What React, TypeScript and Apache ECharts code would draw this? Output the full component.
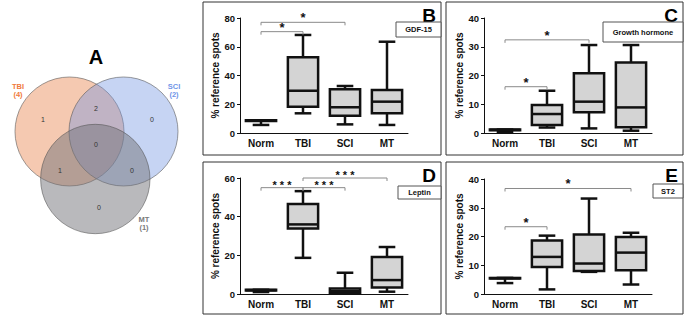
import React, { useEffect, useRef } from "react";
import * as echarts from "echarts";

const categories = ["Norm", "TBI", "SCI", "MT"];

// [min, Q1, median, Q3, max]
const gdf15 = [
  [5.6, 8.4, 8.6, 8.8, 8.8],
  [13.7, 18.3, 29.4, 52.7, 68.2],
  [6.0, 12.0, 17.9, 30.4, 32.7],
  [5.6, 13.7, 21.8, 29.9, 63.5],
];
const growthHormone = [
  [0.3, 1.0, 1.1, 1.2, 1.2],
  [1.9, 2.8, 6.6, 9.7, 14.7],
  [1.6, 7.2, 10.9, 20.8, 30.6],
  [0.8, 2.0, 8.9, 24.5, 30.6],
];
const leptin = [
  [1.0, 1.8, 2.0, 2.2, 2.2],
  [18.7, 33.9, 36.0, 46.6, 53.2],
  [0.2, 0.5, 1.5, 2.9, 11.0],
  [1.2, 3.3, 7.2, 19.2, 24.3],
];
const st2 = [
  [3.8, 5.4, 5.5, 5.6, 5.6],
  [1.6, 9.4, 12.9, 18.6, 20.3],
  [7.7, 8.0, 10.6, 20.7, 33.2],
  [3.3, 8.3, 14.4, 19.8, 21.3],
];

// significance brackets: [fromIndex, toIndex, level]
const gdf15Sig = [[0, 1, 70.5], [0, 2, 77]];
const gdf15SigLabels = ["*", "*"];
const ghSig = [[0, 1, 16.1], [0, 2, 32.4]];
const ghSigLabels = ["*", "*"];
const leptinSig = [[0, 1, 55], [1, 2, 55], [1, 3, 60]];
const leptinSigLabels = ["* * *", "* * *", "* * *"];
const st2Sig = [[0, 1, 23.4], [0, 3, 36.7]];
const st2SigLabels = ["*", "*"];

const yMaxes = [80, 40, 60, 40];
const yIntervals = [20, 10, 20, 10];
const panelLetters = ["B", "C", "D", "E"];
const markerNames = ["GDF-15", "Growth hormone", "Leptin", "ST2"];

// Venn
const vennSets = ["TBI", "SCI", "MT"];
const vennSetCounts = [4, 2, 1];
const vennRegionCounts = [1, 0, 0, 2, 1, 0, 0]; // TBI, SCI, MT, TBI∩SCI, TBI∩MT, SCI∩MT, all

const FONT = "Liberation Sans, Arial, sans-serif";

function boxRender(params: any, api: any) {
  const idx = api.value(0);
  const x = api.coord([idx, 0])[0];
  const yMin = api.coord([idx, api.value(1)])[1];
  const yQ1 = api.coord([idx, api.value(2)])[1];
  const yMed = api.coord([idx, api.value(3)])[1];
  const yQ3 = api.coord([idx, api.value(4)])[1];
  const yMax = api.coord([idx, api.value(5)])[1];
  const band = api.size([1, 0])[0];
  const bw = band * 0.72;
  const cw = bw * 0.55;
  const lw = 2.5;
  const s = { stroke: "#111", lineWidth: lw, fill: null };
  return {
    type: "group",
    children: [
      { type: "line", shape: { x1: x, y1: yMax, x2: x, y2: yQ3 }, style: s },
      { type: "line", shape: { x1: x, y1: yQ1, x2: x, y2: yMin }, style: s },
      { type: "line", shape: { x1: x - cw / 2, y1: yMax, x2: x + cw / 2, y2: yMax }, style: s },
      { type: "line", shape: { x1: x - cw / 2, y1: yMin, x2: x + cw / 2, y2: yMin }, style: s },
      {
        type: "rect",
        shape: { x: x - bw / 2, y: yQ3, width: bw, height: Math.max(yQ1 - yQ3, 0.5) },
        style: { fill: "#d4d4d4", stroke: "#111", lineWidth: lw },
      },
      { type: "line", shape: { x1: x - bw / 2, y1: yMed, x2: x + bw / 2, y2: yMed }, style: s },
    ],
  };
}

function makeSigRender(labels: string[]) {
  return (params: any, api: any) => {
    const i0 = api.value(0);
    const i1 = api.value(1);
    const lvl = api.value(2);
    const p0 = api.coord([i0, lvl]);
    const p1 = api.coord([i1, lvl]);
    const lab = labels[params.dataIndex];
    const triple = lab.length > 1;
    return {
      type: "group",
      children: [
        {
          type: "polyline",
          shape: { points: [[p0[0], p0[1] + 3], [p0[0], p0[1]], [p1[0], p1[1]], [p1[0], p1[1] + 3]] },
          style: { stroke: "#8a8a8a", lineWidth: 1, fill: null },
        },
        {
          type: "text",
          style: {
            text: lab,
            x: (p0[0] + p1[0]) / 2,
            y: p0[1] - (triple ? 3 : 4.5),
            align: "center",
            verticalAlign: "middle",
            font: `bold ${triple ? 11 : 13}px ${FONT}`,
            fill: "#111",
          },
        },
      ],
    };
  };
}

export default function App() {
  const ref = useRef<HTMLDivElement>(null);
  useEffect(() => {
    if (!ref.current) return;
    const chart = echarts.init(ref.current, null, { renderer: "svg" });

    const grids = [
      { left: 240, top: 18, width: 168, height: 115 },
      { left: 484, top: 18, width: 168, height: 115 },
      { left: 240, top: 178, width: 168, height: 116 },
      { left: 484, top: 179, width: 168, height: 115 },
    ];
    const datasets = [gdf15, growthHormone, leptin, st2];
    const sigs = [gdf15Sig, ghSig, leptinSig, st2Sig];
    const sigLabels = [gdf15SigLabels, ghSigLabels, leptinSigLabels, st2SigLabels];

    const xAxis = grids.map((_, i) => ({
      type: "category",
      gridIndex: i,
      data: categories,
      axisLine: { lineStyle: { color: "#111", width: 1 } },
      axisTick: { alignWithLabel: true, length: 3, lineStyle: { color: "#111" } },
      axisLabel: { color: "#111", fontWeight: "bold", fontSize: 10, fontFamily: FONT, margin: 5 },
    }));
    const yAxis = grids.map((_, i) => ({
      type: "value",
      gridIndex: i,
      min: 0,
      max: yMaxes[i],
      interval: yIntervals[i],
      name: "% reference spots",
      nameLocation: "middle",
      nameGap: 19,
      nameTextStyle: { color: "#111", fontWeight: "bold", fontSize: 10, fontFamily: FONT },
      axisLine: { show: true, lineStyle: { color: "#111", width: 1 } },
      axisTick: { show: true, length: 3, lineStyle: { color: "#111" } },
      axisLabel: { color: "#111", fontWeight: "bold", fontSize: 9.5, fontFamily: FONT, margin: 5 },
      splitLine: { show: false },
    }));

    const series: any[] = [];
    datasets.forEach((d, i) => {
      series.push({
        type: "custom",
        xAxisIndex: i,
        yAxisIndex: i,
        renderItem: boxRender,
        clip: false,
        data: d.map((v, k) => [k, ...v]),
        encode: { x: 0, y: [1, 2, 3, 4, 5] },
        z: 3,
      });
      series.push({
        type: "custom",
        xAxisIndex: i,
        yAxisIndex: i,
        renderItem: makeSigRender(sigLabels[i]),
        clip: false,
        data: sigs[i],
        encode: { x: [0, 1], y: 2 },
        z: 4,
      });
    });

    // panel decorations
    const panels = [
      { x: 203, y: 2, w: 238, h: 153 },
      { x: 446, y: 2, w: 237, h: 153 },
      { x: 203, y: 162, w: 238, h: 152 },
      { x: 446, y: 162, w: 237, h: 152 },
    ];
    const legendBoxes = [
      { x: 396, y: 22, w: 45, h: 15 },
      { x: 603, y: 22, w: 80, h: 20 },
      { x: 398, y: 186, w: 43, h: 13 },
      { x: 653, y: 184, w: 30, h: 14 },
    ];
    const graphic: any[] = [];
    panels.forEach((p, i) => {
      graphic.push({
        type: "rect",
        shape: { x: p.x, y: p.y, width: p.w, height: p.h },
        style: { fill: null, stroke: "#333", lineWidth: 1 },
        silent: true,
      });
      graphic.push({
        type: "text",
        style: {
          text: panelLetters[i],
          x: p.x + p.w - 5,
          y: p.y + 4,
          align: "right",
          verticalAlign: "top",
          font: `bold 19px ${FONT}`,
          fill: "#000",
        },
      });
      const lb = legendBoxes[i];
      graphic.push({
        type: "rect",
        shape: { x: lb.x, y: lb.y, width: lb.w, height: lb.h },
        style: { fill: "#fff", stroke: "#555", lineWidth: 1 },
      });
      graphic.push({
        type: "text",
        style: {
          text: markerNames[i],
          x: lb.x + lb.w / 2,
          y: lb.y + lb.h / 2,
          align: "center",
          verticalAlign: "middle",
          font: `bold 7.5px ${FONT}`,
          fill: "#111",
        },
      });
    });

    // Venn diagram
    const circles = [
      { cx: 69.5, cy: 131.5, r: 54.5, fill: "rgba(230,120,60,0.4)" },
      { cx: 123.5, cy: 131.5, r: 54.5, fill: "rgba(112,147,225,0.4)" },
      { cx: 95.3, cy: 179, r: 54.7, fill: "rgba(115,115,121,0.5)" },
    ];
    circles.forEach((c) => {
      graphic.push({
        type: "circle",
        shape: { cx: c.cx, cy: c.cy, r: c.r },
        style: { fill: c.fill, stroke: "rgba(80,80,80,0.7)", lineWidth: 0.8 },
      });
    });
    const setLabelPos = [
      { x: 18, y: 90, color: "#f07a3c" },
      { x: 174, y: 90, color: "#6f95e8" },
      { x: 144, y: 223, color: "#7a7a7a" },
    ];
    vennSets.forEach((name, i) => {
      graphic.push({
        type: "text",
        style: {
          text: `${name}\n(${vennSetCounts[i]})`,
          x: setLabelPos[i].x,
          y: setLabelPos[i].y,
          align: "center",
          verticalAlign: "middle",
          font: `bold 7.5px ${FONT}`,
          lineHeight: 8,
          fill: setLabelPos[i].color,
        },
      });
    });
    const regionPos = [
      [43, 119],
      [152, 119],
      [99, 207],
      [96, 108],
      [60, 170],
      [132, 170],
      [96, 144],
    ];
    vennRegionCounts.forEach((n, i) => {
      graphic.push({
        type: "text",
        style: {
          text: String(n),
          x: regionPos[i][0],
          y: regionPos[i][1],
          align: "center",
          verticalAlign: "middle",
          font: `7px ${FONT}`,
          fill: "#333",
        },
      });
    });
    graphic.push({
      type: "text",
      style: {
        text: "A",
        x: 96,
        y: 57,
        align: "center",
        verticalAlign: "middle",
        font: `bold 20px ${FONT}`,
        fill: "#000",
      },
    });

    chart.setOption({
      animation: false,
      backgroundColor: "#fff",
      grid: grids,
      xAxis,
      yAxis,
      series,
      graphic,
    });
    return () => chart.dispose();
  }, []);
  return (
    <div
      ref={ref}
      style={{ position: "absolute", left: 0, top: 0, width: 685, height: 316 }}
    />
  );
}
